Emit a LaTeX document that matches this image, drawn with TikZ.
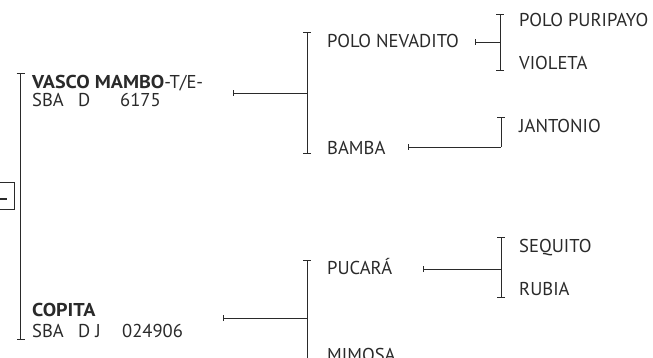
\documentclass[tikz,border=0pt]{standalone}
\usepackage{fontspec}
\setmainfont{PT Sans}
\newfontfamily\namebold[FakeStretch=1.08]{PT Sans Bold}
\usetikzlibrary{arrows.meta}
\definecolor{ink}{HTML}{2A2A2A}
\tikzset{
  lbl/.style={anchor=base west, inner sep=0pt, text=ink, align=left, font=\fontsize{18.6}{17.5}\selectfont},
  ln/.style={draw=ink, line width=0.9pt},
  brk/.style={ln, {Bar[width=8pt,line width=0.9pt]}-{Bar[width=8pt,line width=0.9pt]}},
  brktop/.style={ln, {Bar[width=8pt,line width=0.9pt]}-},
  feed/.style={ln, {Bar[width=6pt,line width=0.9pt]}-},
}
\begin{document}
\begin{tikzpicture}[x=1pt, y=-1pt]
\useasboundingbox (0,0) rectangle (653,358);
% sex box
\node[draw=ink, line width=0.9pt, minimum width=20pt, minimum height=27pt, inner sep=0pt] (sexbox) at (4,195.5) {};
\coordinate (dashA) at (0,199);
\coordinate (dashB) at (7,199);
\draw[ink, line width=2pt] (dashA) -- (dashB);
% main bracket
\coordinate (m0) at (20.5,73);
\coordinate (m1) at (20.5,340);
\draw[brk] (m0) -- (m1);
% generation 1 (anchored at the baseline of the second line)
\node[lbl] (vasco) at (32,106.5) {{\namebold VASCO MAMBO}-T/E-\\
  \makebox[46pt][l]{SBA}\makebox[42pt][l]{D}6175};
\node[lbl] (copita) at (32,337) {{\namebold COPITA}\\[3.5pt]
  \makebox[46pt][l]{SBA}\makebox[44pt][l]{D J}024906};
% father's side
\coordinate (f1) at (233,93);
\coordinate (b1) at (307,93);
\draw[feed] (f1) -- (b1);
\coordinate (b1t) at (307,32);
\coordinate (b1b) at (307,154);
\draw[brk] (b1t) -- (b1b);
\node[lbl] (nevadito) at (327,48) {POLO NEVADITO};
\node[lbl] (bamba) at (327,155) {BAMBA};
\coordinate (f2) at (475,42);
\coordinate (b2) at (500,42);
\draw[feed] (f2) -- (b2);
\coordinate (b2t) at (500,14);
\coordinate (b2b) at (500,71);
\draw[brk] (b2t) -- (b2b);
\node[lbl] (puripayo) at (519,27) {POLO PURIPAYO};
\node[lbl] (violeta) at (519,70) {VIOLETA};
\coordinate (f3) at (408,147);
\coordinate (b3) at (501,147);
\coordinate (b3t) at (501,117);
\draw[feed] (f3) -- (b3);
\draw[brktop] (b3t) -- (b3);
\node[lbl] (jantonio) at (519,133) {JANTONIO};
% mother's side
\coordinate (f4) at (223,318);
\coordinate (b4) at (307,318);
\draw[feed] (f4) -- (b4);
\coordinate (b4t) at (307,260);
\coordinate (b4b) at (307,376);
\draw[brktop] (b4t) -- (b4b);
\node[lbl] (pucara) at (327,274) {PUCARÁ};
\node[lbl] (mimosa) at (327,361) {MIMOSA};
\coordinate (f5) at (423,269);
\coordinate (b5) at (501,269);
\draw[feed] (f5) -- (b5);
\coordinate (b5t) at (501,237);
\coordinate (b5b) at (501,298);
\draw[brk] (b5t) -- (b5b);
\node[lbl] (sequito) at (519,252) {SEQUITO};
\node[lbl] (rubia) at (519,295) {RUBIA};
\end{tikzpicture}
\end{document}
